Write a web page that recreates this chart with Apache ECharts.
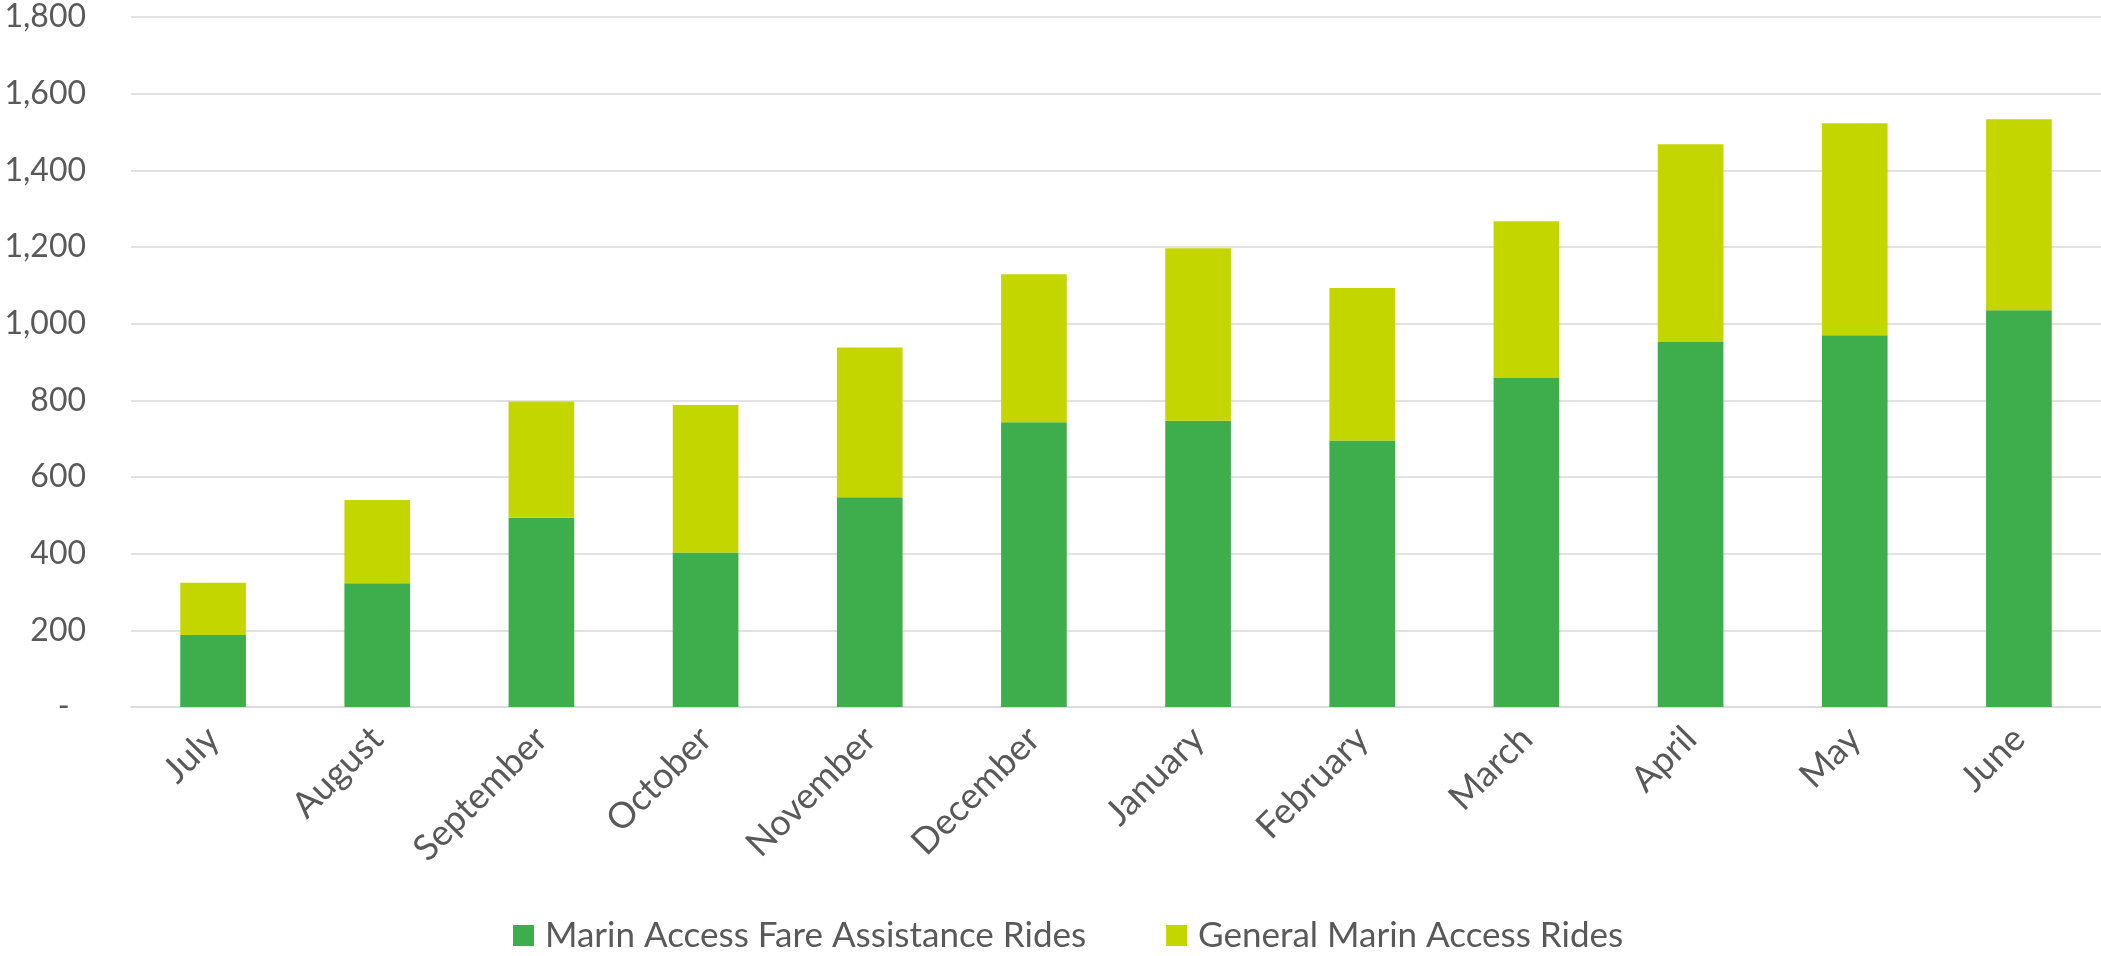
<!DOCTYPE html>
<html>
<head>
<meta charset="utf-8">
<title>Marin Access Rides</title>
<script src="https://cdn.jsdelivr.net/npm/echarts@6/dist/echarts.min.js"></script>
<style>
  html, body { margin: 0; padding: 0; background: #fff; }
  #chart { width: 2101px; height: 956px; }
</style>
</head>
<body>
<div id="chart"></div>
<script>
// months of the fiscal year
var months = ['July', 'August', 'September', 'October', 'November', 'December',
  'January', 'February', 'March', 'April', 'May', 'June']
// rides per month
var fareAssistance = [188, 323, 494, 403, 547, 743, 747, 695, 858, 952, 970, 1035]
var generalAccess = [136, 217, 303, 385, 391, 386, 450, 398, 409, 516, 553, 498]
var seriesNames = ['Marin Access Fare Assistance Rides', 'General Marin Access Rides']

var textColor = '#595959'
var fontFamily = 'Lato, "Noto Sans", sans-serif'

var myChart = echarts.init(document.getElementById('chart'))

var option = {
  animation: false,
  grid: {
    left: 131,
    right: 0,
    top: 17,
    bottom: 249
  },
  legend: {
    data: seriesNames,
    left: 508,
    top: 913,
    itemWidth: 21,
    itemHeight: 21,
    itemGap: 80,
    icon: 'rect',
    textStyle: {
      color: textColor,
      fontSize: 35,
      fontFamily: fontFamily,
      padding: [0, 0, 0, 6]
    }
  },
  xAxis: {
    type: 'category',
    data: months,
    axisTick: { show: false },
    axisLine: { lineStyle: { color: '#d9d9d9', width: 1.5 } },
    axisLabel: {
      rotate: 45,
      interval: 0,
      margin: 26,
      color: textColor,
      fontSize: 36,
      fontFamily: fontFamily
    }
  },
  yAxis: {
    type: 'value',
    min: 0,
    max: 1800,
    interval: 200,
    axisLine: { show: false },
    axisTick: { show: false },
    splitLine: { lineStyle: { color: '#d9d9d9', width: 1.5 } },
    axisLabel: {
      margin: 45,
      color: textColor,
      fontSize: 32,
      fontFamily: fontFamily,
      formatter: function(v) {
        return v === 0 ? '-  ' : v.toLocaleString('en-US')
      }
    }
  },
  series: [
    {
      name: seriesNames[0],
      type: 'bar',
      stack: 'rides',
      barWidth: '40%',
      itemStyle: { color: '#3dae4b' },
      data: fareAssistance
    },
    {
      name: seriesNames[1],
      type: 'bar',
      stack: 'rides',
      barWidth: '40%',
      itemStyle: { color: '#c4d600' },
      data: generalAccess
    }
  ]
}
myChart.setOption(option)
</script>
</body>
</html>
